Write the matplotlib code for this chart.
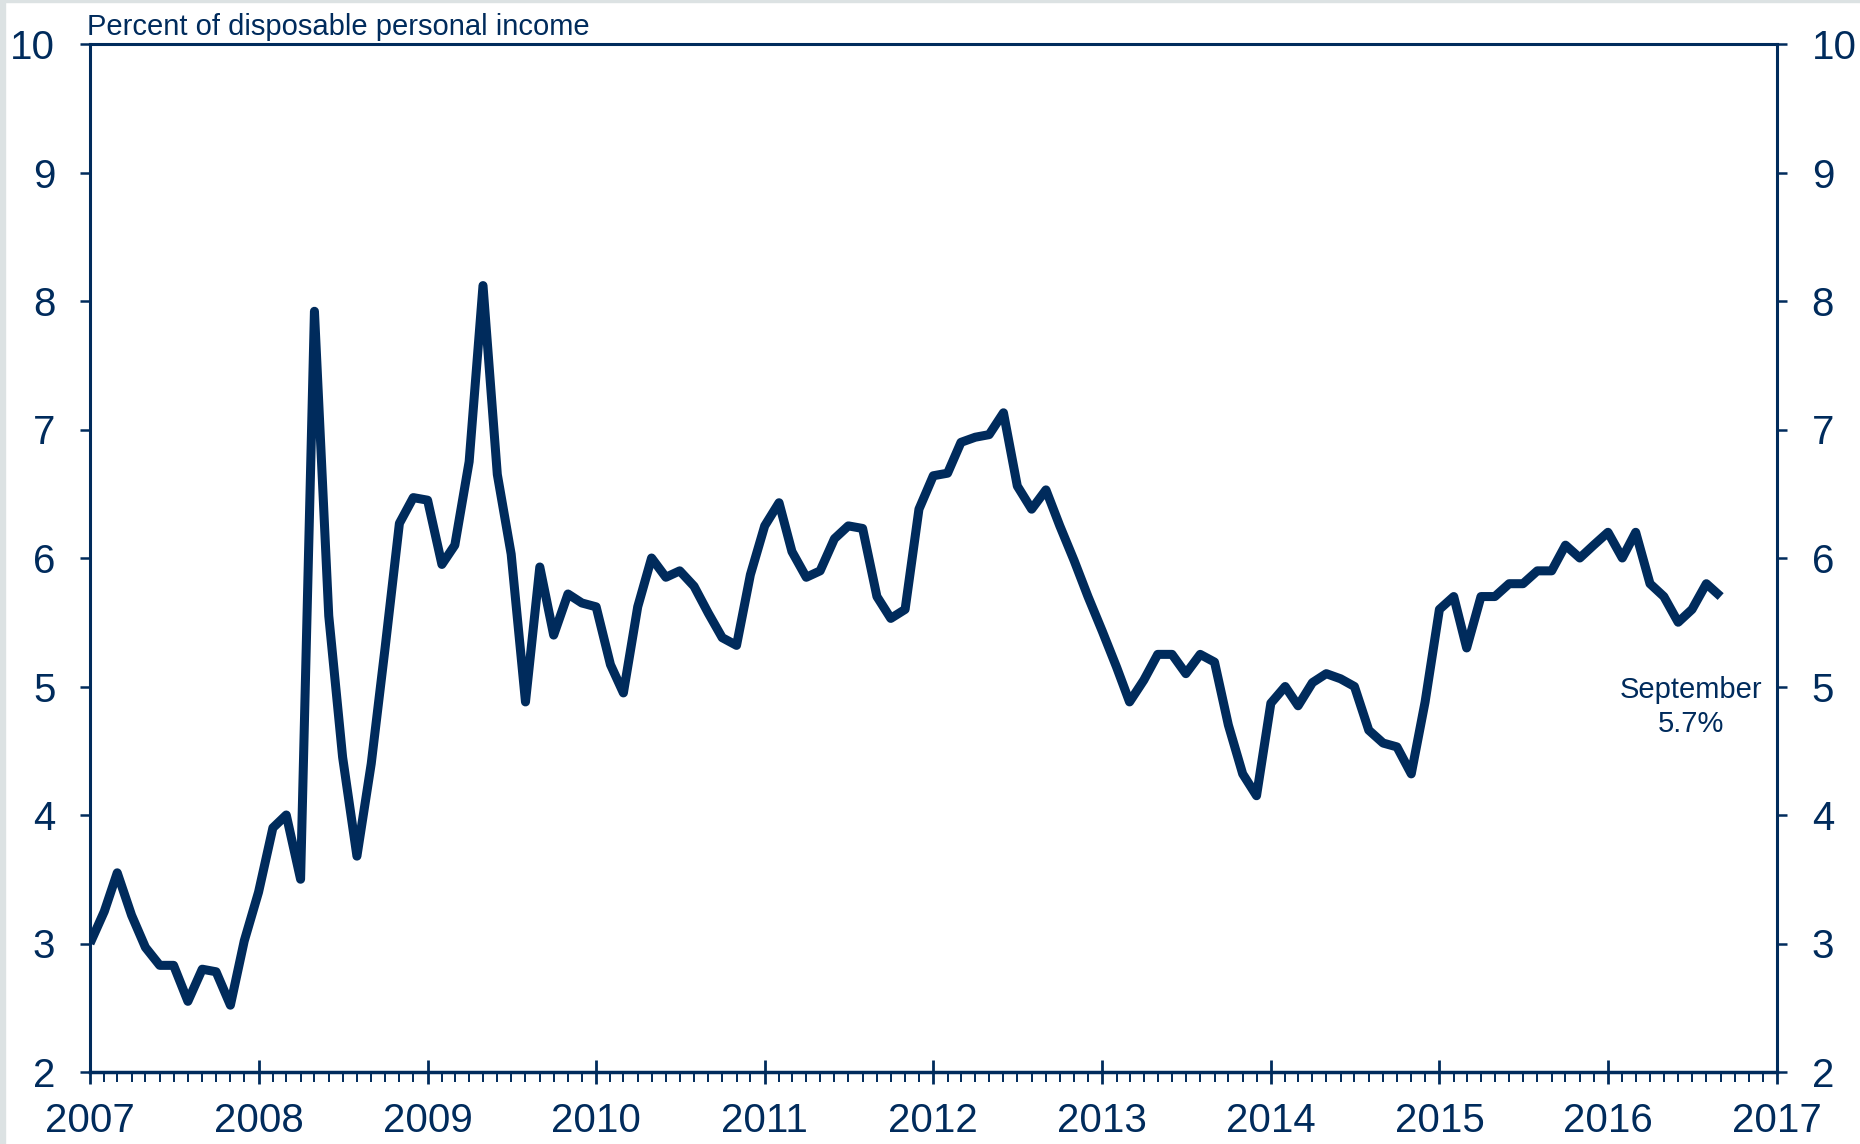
import numpy as np
import pandas as pd
import matplotlib
matplotlib.use("Agg")
from matplotlib import pyplot as plt
import matplotlib.dates as mdates
from matplotlib.patches import Rectangle

plt.rcParams['font.family'] = ['Liberation Sans', 'DejaVu Sans']

NAVY = '#002b5c'

# personal saving rate, monthly, Jan 2007 - Sep 2016
rate_2007 = [3.00, 3.25, 3.55, 3.22, 2.97, 2.83, 2.83, 2.55, 2.80, 2.78, 2.52, 3.02]
rate_2008 = [3.40, 3.90, 4.00, 3.50, 7.92, 5.55, 4.45, 3.68, 4.40, 5.30, 6.27, 6.47]
rate_2009 = [6.45, 5.95, 6.10, 6.75, 8.12, 6.65, 6.03, 4.88, 5.93, 5.40, 5.72, 5.65]
rate_2010 = [5.62, 5.17, 4.95, 5.62, 6.00, 5.85, 5.90, 5.78, 5.57, 5.38, 5.32, 5.87]
rate_2011 = [6.25, 6.43, 6.05, 5.85, 5.90, 6.15, 6.25, 6.23, 5.70, 5.53, 5.60, 6.38]
rate_2012 = [6.64, 6.66, 6.90, 6.94, 6.96, 7.13, 6.56, 6.38, 6.53, 6.25, 5.98, 5.70]
rate_2013 = [5.43, 5.15, 4.88, 5.05, 5.25, 5.25, 5.10, 5.25, 5.19, 4.70, 4.32, 4.15]
rate_2014 = [4.87, 5.00, 4.85, 5.03, 5.10, 5.06, 5.00, 4.66, 4.56, 4.53, 4.32, 4.88]
rate_2015 = [5.60, 5.70, 5.30, 5.70, 5.70, 5.80, 5.80, 5.90, 5.90, 6.10, 6.00, 6.10]
rate_2016 = [6.20, 6.00, 6.20, 5.80, 5.70, 5.50, 5.60, 5.80, 5.70]

rates = (rate_2007 + rate_2008 + rate_2009 + rate_2010 + rate_2011 +
         rate_2012 + rate_2013 + rate_2014 + rate_2015 + rate_2016)
months = pd.date_range('2007-01-01', periods=len(rates), freq='MS')

y_ticks = list(range(2, 11))
y_label = 'Percent of disposable personal income'
note = 'September\n5.7%'

fig = plt.figure(figsize=(18.6, 11.44), dpi=100)
fig.patches.append(Rectangle((0, 0), 5 / 1860, 1, transform=fig.transFigure,
                             color='#dce2e3', zorder=0))
fig.patches.append(Rectangle((0, 1 - 2 / 1144), 1, 2 / 1144, transform=fig.transFigure,
                             color='#dce2e3', zorder=0))

ax = fig.add_axes([90 / 1860, 72 / 1144, 1687 / 1860, 1028 / 1144])
ax.plot(months, rates, color=NAVY, lw=6.5, solid_joinstyle='round', solid_capstyle='butt')

ax.set_xlim(pd.Timestamp('2007-01-01'), pd.Timestamp('2017-01-01'))
ax.set_ylim(2, 10)
ax.set_yticks(y_ticks)

ax.xaxis.set_major_locator(mdates.YearLocator())
ax.xaxis.set_major_formatter(mdates.DateFormatter('%Y'))
ax.xaxis.set_minor_locator(mdates.MonthLocator())

for s in ax.spines.values():
    s.set_color(NAVY)
    s.set_linewidth(2.2)
ax.spines['bottom'].set_linewidth(2.5)

ax.tick_params(axis='y', which='both', left=True, right=True, labelleft=True, labelright=True,
               direction='out', length=7, width=1.8, pad=18, labelsize=29, colors=NAVY)
ax.tick_params(axis='x', which='major', direction='inout', length=17, width=2.0,
               pad=13, labelsize=29, colors=NAVY)
ax.tick_params(axis='x', which='minor', direction='out', length=7.5, width=1.4, colors=NAVY)

fig.text(87 / 1860, 1 - 35 / 1144, y_label, fontsize=21, color=NAVY, va='baseline', ha='left')
ax.text(pd.Timestamp('2016-06-28'), 4.84, note, fontsize=21, color=NAVY,
        ha='center', va='center', multialignment='center', linespacing=1.25)

fig.savefig('out.png', dpi=100, facecolor='white')
